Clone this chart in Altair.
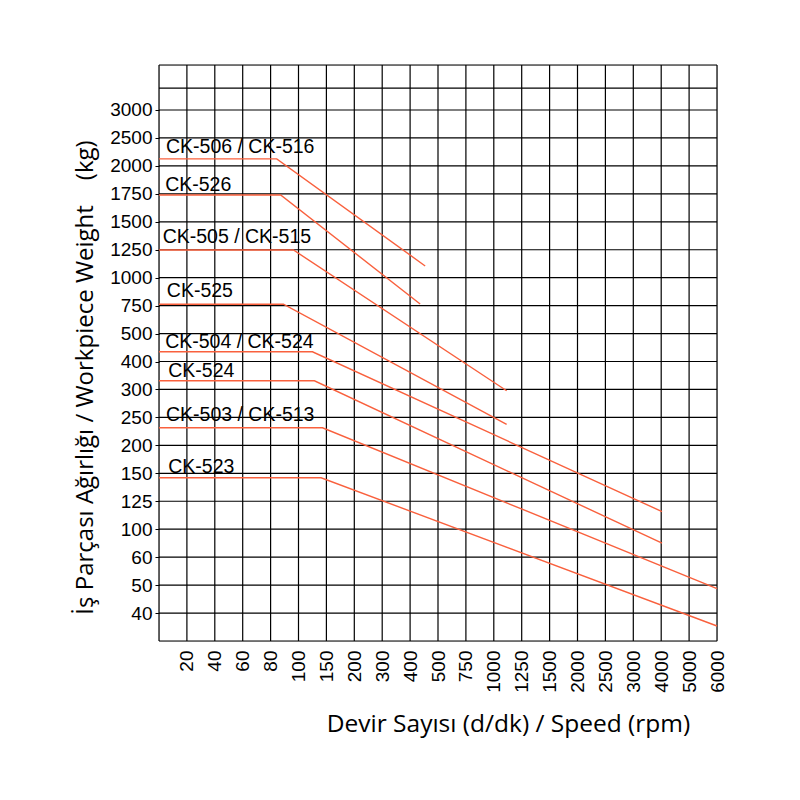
import altair as alt
import pandas as pd

# Axis tick labels (categorical, evenly spaced)
x_labels = ["20", "40", "60", "80", "100", "150", "200", "300", "400", "500",
            "750", "1000", "1250", "1500", "2000", "2500", "3000", "4000", "5000", "6000"]
y_labels = ["40", "50", "60", "100", "125", "150", "200", "250", "300", "400",
            "500", "750", "1000", "1250", "1500", "1750", "2000", "2500", "3000"]

# Series: label, and break points in category-index units (x: 0 = left edge, y: 0 = bottom edge)
series = ["CK-506 / CK-516", "CK-526", "CK-505 / CK-515", "CK-525",
          "CK-504 / CK-524", "CK-524", "CK-503 / CK-513", "CK-523"]
flat_level = [17.25, 15.96, 13.99, 12.05, 10.35, 9.31, 7.63, 5.84]
knee_x = [4.22, 4.36, 4.82, 4.46, 5.50, 5.57, 5.86, 5.81]
end_x = [9.54, 9.36, 12.46, 12.46, 18.03, 18.03, 20.0, 20.0]
end_y = [13.42, 12.06, 8.955, 7.75, 4.63, 3.50, 1.875, 0.537]
label_x = [0.25, 0.22, 0.13, 0.28, 0.22, 0.33, 0.25, 0.33]
label_y = [17.66, 16.33, 14.47, 12.52, 10.71, 9.67, 8.07, 6.21]

rows = []
for i, s in enumerate(series):
    rows.append({"s": s, "o": 0, "x": 0.0, "y": flat_level[i]})
    rows.append({"s": s, "o": 1, "x": knee_x[i], "y": flat_level[i]})
    rows.append({"s": s, "o": 2, "x": end_x[i], "y": end_y[i]})
lines_df = pd.DataFrame(rows)
labels_df = pd.DataFrame({"s": series, "x": label_x, "y": label_y})

n_x = len(x_labels)
n_y = len(y_labels)
y_top = n_y + 1.61
vgrid = pd.DataFrame({"x": list(range(0, n_x + 1))})
hgrid = pd.DataFrame({"y": list(range(0, n_y + 1)) + [n_y + 0.785, y_top]})

xscale = alt.Scale(domain=[0, n_x], nice=False, zero=False)
yscale = alt.Scale(domain=[0, y_top], nice=False, zero=False)

x_expr = "[" + ",".join("'%s'" % v for v in x_labels) + "][datum.value-1]"
y_expr = "[" + ",".join("'%s'" % v for v in y_labels) + "][datum.value-1]"

x_axis = alt.Axis(values=list(range(1, n_x + 1)), labelExpr=x_expr, labelAngle=-90,
                  grid=False, ticks=False, tickSize=0, domain=False,
                  labelFont="Liberation Sans", labelFontSize=19, labelColor="black",
                  labelPadding=9,
                  title="Devir Sayısı (d/dk) / Speed (rpm)",
                  titleFont="Open Sans", titleFontSize=24.5, titleFontWeight="normal",
                  titleColor="black", titleX=349, titleY=83, titleAlign="center",
                  titleBaseline="middle", labelOverlap=False, labelFlush=False)
y_axis = alt.Axis(values=list(range(1, n_y + 1)), labelExpr=y_expr,
                  grid=False, ticks=True, tickSize=4, tickColor="black", tickWidth=1,
                  domain=False, labelFont="Liberation Sans", labelFontSize=19,
                  labelColor="black", labelPadding=3,
                  title="İş Parçası Ağırlığı / Workpiece Weight\u00a0\u00a0\u00a0\u00a0(kg)",
                  titleFont="Open Sans", titleFontSize=24, titleFontWeight="normal",
                  titleColor="black", titleX=-74, titleY=312, titleAlign="center",
                  titleBaseline="middle", titleAngle=-90, labelOverlap=False,
                  labelFlush=False)

vlines = alt.Chart(vgrid).mark_rule(color="black", strokeWidth=1.2).encode(
    x=alt.X("x:Q", scale=xscale, axis=x_axis)
)
hlines = alt.Chart(hgrid).mark_rule(color="black", strokeWidth=1.2).encode(
    y=alt.Y("y:Q", scale=yscale, axis=y_axis)
)
curves = alt.Chart(lines_df).mark_line(color="#f9603d", strokeWidth=1.4).encode(
    x=alt.X("x:Q", scale=xscale, axis=x_axis),
    y=alt.Y("y:Q", scale=yscale, axis=y_axis),
    detail="s:N",
    order="o:Q",
)
texts = alt.Chart(labels_df).mark_text(
    align="left", baseline="middle", font="Liberation Sans", fontSize=19.5, color="black"
).encode(
    x=alt.X("x:Q", scale=xscale, axis=x_axis),
    y=alt.Y("y:Q", scale=yscale, axis=y_axis),
    text="s:N",
)

chart = alt.layer(vlines, hlines, curves, texts).properties(
    width=558, height=576,
    autosize=alt.AutoSizeParams(type="none"),
    padding={"left": 151, "top": 57, "right": 60, "bottom": 110},
).configure_view(stroke=None).configure(background="white")

chart.save("out.html", embed_options={"renderer": "svg", "actions": False})
